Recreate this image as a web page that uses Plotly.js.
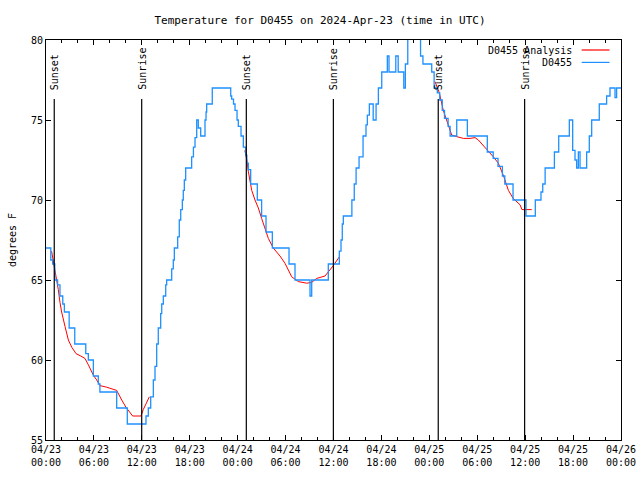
<!DOCTYPE html>
<html>
<head>
<meta charset="utf-8">
<script src="https://cdn.plot.ly/plotly-3.0.1.min.js"></script>
<style>html,body{margin:0;padding:0;background:#fff;}#chart{width:640px;height:480px;}</style>
</head>
<body>
<div id="chart"></div>
<script>
// Hours since 2024-04-23 00:00 UTC
const obsHours = [0,0.6,0.83,1.1,1.45,1.75,2.1,2.3,2.9,3.6,4.98,5.3,5.93,6.55,6.75,8.85,10.18,12.31,
  12.52,12.81,13.11,13.44,13.65,13.86,14.06,14.36,14.49,14.69,14.99,15.11,15.74,15.94,16.07,16.49,16.69,16.87,17.07,17.19,17.32,17.49,
  18.24,18.46,18.66,18.87,19.07,19.37,19.91,20.04,20.12,20.82,23.13,23.25,23.48,23.67,23.92,24.08,24.42,24.71,25.01,25.15,25.33,25.63,
  26.46,27.0,27.55,28.34,30.43,31.18,33.06,33.27,35.35,36.73,36.94,37.1,37.23,38.3,38.6,38.83,39.2,39.7,40.07,40.24,40.49,40.97,41.33,
  41.62,42.04,42.74,42.95,43.8,44.1,44.8,45.0,45.3,46.9,47.2,48.0,48.3,48.6,49.0,49.3,49.62,49.9,50.35,50.6,51.43,52.76,55.26,56.0,
  56.6,57.15,57.45,58.48,60.1,61.27,61.98,62.2,62.5,63.66,64.2,65.53,65.95,66.24,66.45,66.66,66.87,67.7,68.03,68.33,69.28,70.2,70.62,
  71.25,71.45,72];
const obsTemps = [67.0,66.25,66.0,65.0,64.7,64.0,63.5,63.0,62.0,61.0,60.4,60.0,59.0,58.5,58.0,57.0,56.0,56.0,
  56.5,57.0,57.7,58.75,59.6,61.0,62.0,62.9,63.5,64.0,64.7,65.0,65.7,66.25,67.0,67.7,68.75,69.4,70.0,70.6,71.25,72.0,
  72.7,73.3,73.9,75.0,74.5,74.0,75.0,75.5,76.0,77.0,76.5,76.3,76.0,75.6,75.0,74.6,74.0,73.3,72.8,72.3,71.9,71.0,
  70.0,69.0,68.0,67.0,66.0,65.0,64.0,65.0,66.0,66.8,67.5,68.5,69.0,70.0,71.0,72.0,72.7,74.0,74.7,75.3,76.0,75.0,76.0,
  77.0,78.0,79.0,78.0,79.0,78.0,77.0,78.5,81.0,79.0,78.5,78.5,78.0,77.0,76.7,76.25,75.6,75.1,74.6,74.0,75.0,74.0,73.0,72.6,
  72.1,71.5,71.0,70.0,69.0,70.0,70.5,71.0,72.0,73.0,74.0,75.0,73.1,72.5,72.0,73.0,72.0,73.0,74.0,75.0,76.0,76.5,77.0,
  76.4,77.0,77.0];

const anaHours = [0.7,0.91,1.13,1.34,1.54,1.75,1.96,2.38,2.8,3.22,3.76,4.35,4.88,5.3,5.92,6.35,6.76,7.6,8.85,9.48,10.02,10.85,11.9,12.18,12.52,12.94,null,
  24.9,25.15,25.33,25.76,26.17,26.59,27.0,27.42,27.84,28.46,29.3,29.93,30.34,30.77,31.6,32.64,33.27,33.9,34.94,35.35,35.98,36.73,null,
  48.71,49.25,49.75,50.38,50.8,51.43,52.26,53.1,53.72,54.14,54.76,55.39,56.01,56.64,57.3,57.9,58.5,59.36,59.6,60.82];
const anaTemps = [66.8,66.25,65.6,65.0,64.4,63.6,63.0,62.1,61.25,60.8,60.4,60.25,60.1,59.7,59.06,58.75,58.4,58.3,58.1,57.5,57.04,56.5,56.5,56.9,57.3,57.7,null,
  73.1,72.5,71.8,70.6,70.0,69.5,68.85,68.2,67.6,67.0,66.5,66.04,65.6,65.2,64.9,64.8,64.85,65.1,65.25,65.5,65.9,66.45,null,
  77.4,76.7,75.6,74.6,74.06,73.96,73.85,73.85,73.9,73.75,73.4,73.1,72.7,72.3,71.5,70.6,70.1,69.7,69.4,69.4];

const sunTimes = ['2024-04-23 01:02','2024-04-23 11:59','2024-04-24 01:05','2024-04-24 11:59','2024-04-25 01:07','2024-04-25 11:56'];
const sunLabels = ['Sunset','Sunrise','Sunset','Sunrise','Sunset','Sunrise'];

const seriesNames = ['D0455 Analysis','D0455'];
const titleText = 'Temperature for D0455 on 2024-Apr-23 (time in UTC)';

function toDate(h){
  if (h === null) return null;
  const d = new Date(Date.UTC(2024,3,23) + Math.round(h*3600)*1000);
  const p = n => String(n).padStart(2,'0');
  return d.getUTCFullYear()+'-'+p(d.getUTCMonth()+1)+'-'+p(d.getUTCDate())+' '+p(d.getUTCHours())+':'+p(d.getUTCMinutes())+':'+p(d.getUTCSeconds());
}

const FONT = 'DejaVu Sans Mono, Liberation Mono, monospace';
const RED = '#ff0000', BLUE = '#1e90ff';

const traces = [
  {x: anaHours.map(toDate), y: anaTemps, type:'scatter', mode:'lines', name: seriesNames[0],
   line:{color:RED, width:1}, connectgaps:false},
  {x: obsHours.map(toDate), y: obsTemps, type:'scatter', mode:'lines', name: seriesNames[1],
   line:{color:BLUE, width:1.3, shape:'hv'}}
];

const shapes = sunTimes.map(t => ({type:'line', xref:'x', yref:'paper', x0:t, x1:t, y0:0, y1:0.8525,
  line:{color:'#000', width:1.2}}));
const annotations = sunTimes.map((t,i) => ({x:t, xref:'x', y:0.87, yref:'paper', text:sunLabels[i],
  textangle:-90, showarrow:false, xanchor:'center', yanchor:'bottom', font:{family:FONT, size:10, color:'#000'}}));

// legend (text right-aligned, sample to the right)
const legY = [0.975, 0.944];
const legColors = [RED, BLUE];
seriesNames.forEach((n,i) => {
  annotations.push({x:0.918, xref:'paper', y:legY[i], yref:'paper', text:n, showarrow:false,
    xanchor:'right', yanchor:'middle', font:{family:FONT, size:10, color:'#000'}});
  shapes.push({type:'line', xref:'paper', yref:'paper', x0:0.9316, x1:0.980, y0:legY[i], y1:legY[i],
    line:{color:legColors[i], width:1.2}});
});

const layout = {
  width:640, height:480,
  margin:{l:46, r:19, t:40, b:40},
  paper_bgcolor:'#fff', plot_bgcolor:'#fff',
  showlegend:false,
  title:{text:titleText, font:{family:FONT, size:11, color:'#000'}, x:0.5, xanchor:'center', y:1-20/480, yanchor:'middle'},
  font:{family:FONT, size:10, color:'#000'},
  xaxis:{type:'date', range:['2024-04-23 00:00','2024-04-26 00:00'], tick0:'2024-04-23 00:00', dtick:6*3600000,
    tickformat:'%m/%d<br>%H:%M', ticks:'inside', ticklen:5, tickwidth:1, tickcolor:'#000',
    showline:true, linecolor:'#000', linewidth:1, mirror:'allticks', showgrid:false, zeroline:false,
    minor:{dtick:2*3600000, ticks:'inside', ticklen:3, tickcolor:'#000', showgrid:false},
    tickfont:{family:FONT, size:10, color:'#000'}},
  yaxis:{range:[55,80], dtick:5, tick0:55, ticks:'inside', ticklen:5, tickwidth:1, tickcolor:'#000',
    showline:true, linecolor:'#000', linewidth:1, mirror:'allticks', showgrid:false, zeroline:false,
    tickfont:{family:FONT, size:10, color:'#000'},
    title:{text:'degrees F', font:{family:FONT, size:10, color:'#000'}, standoff:12}},
  shapes: shapes,
  annotations: annotations
};

Plotly.newPlot('chart', traces, layout, {staticPlot:true, displayModeBar:false});
</script>
</body>
</html>
